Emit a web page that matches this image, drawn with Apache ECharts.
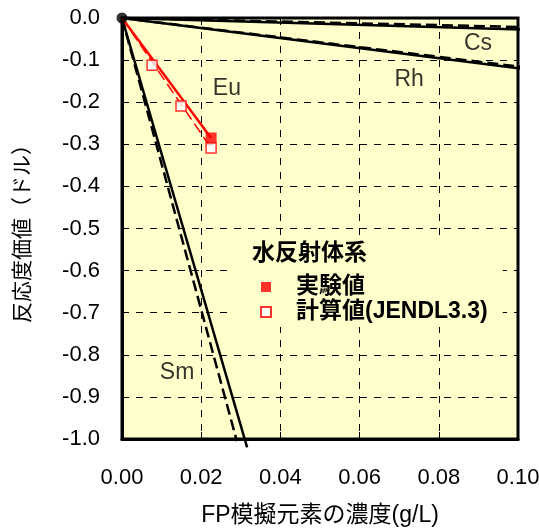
<!DOCTYPE html>
<html><head><meta charset="utf-8">
<script src="https://cdn.jsdelivr.net/npm/echarts@6/dist/echarts.min.js"></script>
<style>html,body{margin:0;padding:0;background:#fff}#c{width:539px;height:531px}</style>
</head><body><div id="c"></div>
<script>
// ---- data (g/L, dollars) ----
const xTicks = [0, 0.02, 0.04, 0.06, 0.08, 0.10];
const yTicks = [0, -0.1, -0.2, -0.3, -0.4, -0.5, -0.6, -0.7, -0.8, -0.9, -1.0];
const csSolid = [[0, 0], [0.1015, -0.0275]];
const csDashed = [[0, 0], [0.1015, -0.0215]];
const rhSolid = [[0, 0], [0.1015, -0.121]];
const rhDashed = [[0, 0], [0.1015, -0.117]];
const smSolid = [[0, 0], [0.0316, -1.02]];
const smDashed = [[0, 0], [0.029, -1.005]];
const euExpLine = [[0, 0], [0.0225, -0.285]];
const euCalcLine = [[0, 0], [0.0225, -0.309]];
const euExp = [[0.0225, -0.285]];
const euCalc = [[0.0076, -0.112], [0.0149, -0.209], [0.0225, -0.309]];
const origin = [[0, 0]];
const elementNames = ['Cs', 'Rh', 'Eu', 'Sm'];
const elementLabelAt = [[0.0899, -0.062], [0.0725, -0.147], [0.0265, -0.169], [0.0139, -0.843]];
const legendTitle = '水反射体系';
const seriesNames = ['実験値', '計算値(JENDL3.3)'];

const FONT = '"Liberation Sans", Arial, "Noto Sans CJK JP", sans-serif';
const chart = echarts.init(document.getElementById('c'), null, {renderer: 'canvas'});

function lineSeries(data, dashed, color, width) {
  return {
    type: 'line', data: data, clip: false, showSymbol: false, symbol: 'none',
    silent: true, z: 3,
    lineStyle: {color: color || '#000', width: width || 2.5, type: dashed ? [11, 5] : 'solid'}
  };
}

chart.setOption({
  backgroundColor: '#fff',
  animation: false,
  textStyle: {fontFamily: FONT},
  title: {
    text: legendTitle, left: 252, top: 242,
    textStyle: {fontFamily: FONT, fontSize: 23, fontWeight: 'bold', color: '#000'},
    padding: 0
  },
  legend: {
    data: seriesNames,
    orient: 'vertical', left: 230, top: 240,
    padding: [35, 15, 3, 30],
    backgroundColor: '#FFFFCC',
    itemWidth: 10, itemHeight: 10, itemGap: 1,
    textStyle: {fontFamily: FONT, fontSize: 23, fontWeight: 'bold', color: '#000', lineHeight: 24, padding: [0, 0, 0, 20]},
    selectedMode: false
  },
  grid: {
    left: 122, right: 21, top: 18, bottom: 92,
    outerBoundsMode: 'none', containLabel: false,
    show: true, backgroundColor: '#FFFFCC', borderColor: '#000', borderWidth: 3
  },
  xAxis: {
    type: 'value', min: 0, max: 0.1, interval: 0.02,
    name: 'FP模擬元素の濃度(g/L)', nameLocation: 'middle', nameGap: 65,
    nameTextStyle: {fontFamily: FONT, fontSize: 23, color: '#000'},
    axisLine: {show: true, onZero: false, lineStyle: {color: '#000', width: 3}},
    axisTick: {show: true, inside: true, length: 7, lineStyle: {color: '#000', width: 1}},
    axisLabel: {fontFamily: FONT, fontSize: 22, color: '#000', margin: 28,
      formatter: v => v.toFixed(2)},
    splitLine: {show: true, lineStyle: {color: '#000', width: 1, type: [7, 7]}}
  },
  yAxis: {
    type: 'value', min: -1, max: 0, interval: 0.1,
    name: '反応度価値（ドル）', nameLocation: 'middle', nameGap: 88,
    nameTextStyle: {fontFamily: FONT, fontSize: 21, color: '#000'},
    axisLine: {show: true, onZero: false, lineStyle: {color: '#000', width: 3}},
    axisTick: {show: true, inside: true, length: 7, lineStyle: {color: '#000', width: 1}},
    axisLabel: {fontFamily: FONT, fontSize: 22, color: '#000', margin: 22,
      formatter: v => (Math.abs(v) < 1e-9 ? 0 : v).toFixed(1)},
    splitLine: {show: true, lineStyle: {color: '#000', width: 1, type: [7, 7]}}
  },
  series: [
    lineSeries(csSolid, false),
    lineSeries(csDashed, true),
    lineSeries(rhSolid, false),
    lineSeries(rhDashed, true),
    lineSeries(smSolid, false),
    lineSeries(smDashed, true),
    lineSeries(euCalcLine, true, '#FF0000', 1.5),
    lineSeries(euExpLine, false, '#FF0000', 2.5),
    {
      name: seriesNames[0], type: 'scatter', data: euExp, symbol: 'rect', symbolSize: 11,
      itemStyle: {color: '#FF0000'}, z: 5, clip: false
    },
    {
      name: seriesNames[1], type: 'scatter', data: euCalc, symbol: 'rect', symbolSize: 10,
      itemStyle: {color: '#FFFFFF', borderColor: '#FF0000', borderWidth: 1.5}, z: 6, clip: false
    },
    {
      type: 'scatter', data: origin, symbol: 'circle', symbolSize: 11,
      itemStyle: {color: '#000'}, z: 8, clip: false, silent: true
    },
    {
      type: 'scatter', symbolSize: 0, silent: true, z: 7, clip: false,
      data: elementLabelAt.map((p, i) => ({value: p, name: elementNames[i]})),
      label: {show: true, position: 'inside', formatter: p => p.name,
        fontFamily: FONT, fontSize: 23, color: '#000'}
    }
  ]
});
</script></body></html>
